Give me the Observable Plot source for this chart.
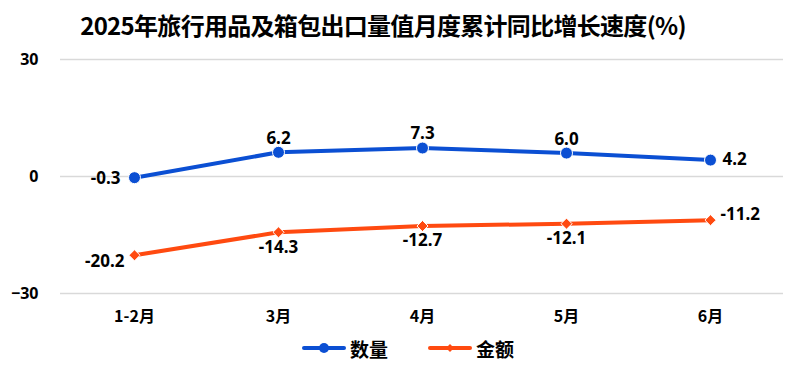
<!DOCTYPE html>
<html><head><meta charset="utf-8">
<script src="https://cdn.jsdelivr.net/npm/d3@7"></script>
<script src="https://cdn.jsdelivr.net/npm/@observablehq/plot@0.6"></script>
<style>
body{margin:0;background:#fff;font-family:"Noto Sans","Noto Sans CJK SC",sans-serif;}
#title{height:44px;line-height:50px;text-align:center;font-weight:bold;font-size:24px;color:#000;font-family:"Noto Sans CJK SC",sans-serif;letter-spacing:-0.7px;padding-right:34px;}
#legend{height:22px;display:flex;justify-content:center;align-items:center;gap:40px;font-weight:bold;font-size:19px;font-family:"Noto Sans CJK SC",sans-serif;padding-left:16px;}
.item{display:flex;align-items:center;gap:4px;}
</style></head>
<body>
<div id="title">2025年旅行用品及箱包出口量值月度累计同比增长速度(%)</div>
<div id="chart"></div>
<div id="legend"></div>
<script>
const months = ["1-2月","3月","4月","5月","6月"];
const quantity = [-0.3, 6.2, 7.3, 6.0, 4.2];
const amount = [-20.2, -14.3, -12.7, -12.1, -11.2];
const yTicks = [-30, 0, 30];
const seriesNames = ["数量","金额"];
const colors = ["#0b4fd3","#ff4a10"];

const q = months.map((m,i)=>({month:m, value:quantity[i], i}));
const a = months.map((m,i)=>({month:m, value:amount[i], i}));
const last = months.length-1;
const fmt = d=>d.value.toFixed(1);
const lblFont = {fontSize:17, fontWeight:"bold", fill:"#000"};

const plot = Plot.plot({
  width:800, height:293,
  marginLeft:60, marginRight:17, marginTop:15, marginBottom:44,
  x:{type:"point", domain:months, padding:0.5},
  y:{domain:[-30,30]},
  style:{fontFamily:"'Noto Sans','Noto Sans CJK SC',sans-serif"},
  marks:[
    Plot.ruleY(yTicks,{stroke:"#d9d9d9", strokeWidth:1.5}),
    Plot.axisY({ticks:yTicks, tickSize:0, tickPadding:22, fontSize:16, fontWeight:"bold", label:null}),
    Plot.axisX({tickSize:0, tickPadding:17, fontSize:16, fontWeight:"bold", label:null, fontFamily:"'Noto Sans CJK SC',sans-serif"}),
    Plot.line(q,{x:"month", y:"value", stroke:colors[0], strokeWidth:4}),
    Plot.line(a,{x:"month", y:"value", stroke:colors[1], strokeWidth:4}),
    Plot.dot(q,{x:"month", y:"value", r:6, fill:colors[0], stroke:"#fff", strokeWidth:1}),
    Plot.dot(a,{x:"month", y:"value", r:5, symbol:"diamond2", fill:colors[1], stroke:"#fff", strokeWidth:1}),
    // quantity labels
    Plot.text(q.filter(d=>d.i===0),{x:"month", y:"value", text:fmt, textAnchor:"end", dx:-14, dy:1, ...lblFont}),
    Plot.text(q.filter(d=>d.i>0&&d.i<last),{x:"month", y:"value", text:fmt, dy:-14, ...lblFont}),
    Plot.text(q.filter(d=>d.i===last),{x:"month", y:"value", text:fmt, textAnchor:"start", dx:12, dy:-1, ...lblFont}),
    // amount labels
    Plot.text(a.filter(d=>d.i===0),{x:"month", y:"value", text:fmt, textAnchor:"end", dx:-10, dy:6, ...lblFont}),
    Plot.text(a.filter(d=>d.i>0&&d.i<last),{x:"month", y:"value", text:fmt, dy:15, ...lblFont}),
    Plot.text(a.filter(d=>d.i===last),{x:"month", y:"value", text:fmt, textAnchor:"start", dx:10, dy:-6, ...lblFont})
  ]
});
document.getElementById("chart").appendChild(plot);

const lg = document.getElementById("legend");
seriesNames.forEach((n,k)=>{
  const sym = k===0
    ? `<circle cx="22" cy="8" r="5" fill="${colors[k]}"/>`
    : `<path d="M22 4 L26 8 L22 12 L18 8 Z" fill="${colors[k]}"/>`;
  lg.insertAdjacentHTML("beforeend",
    `<div class="item"><svg width="44" height="16"><line x1="2" y1="8" x2="42" y2="8" stroke="${colors[k]}" stroke-width="4" stroke-linecap="round"/>${sym}</svg><span>${n}</span></div>`);
});
</script>
</body></html>
